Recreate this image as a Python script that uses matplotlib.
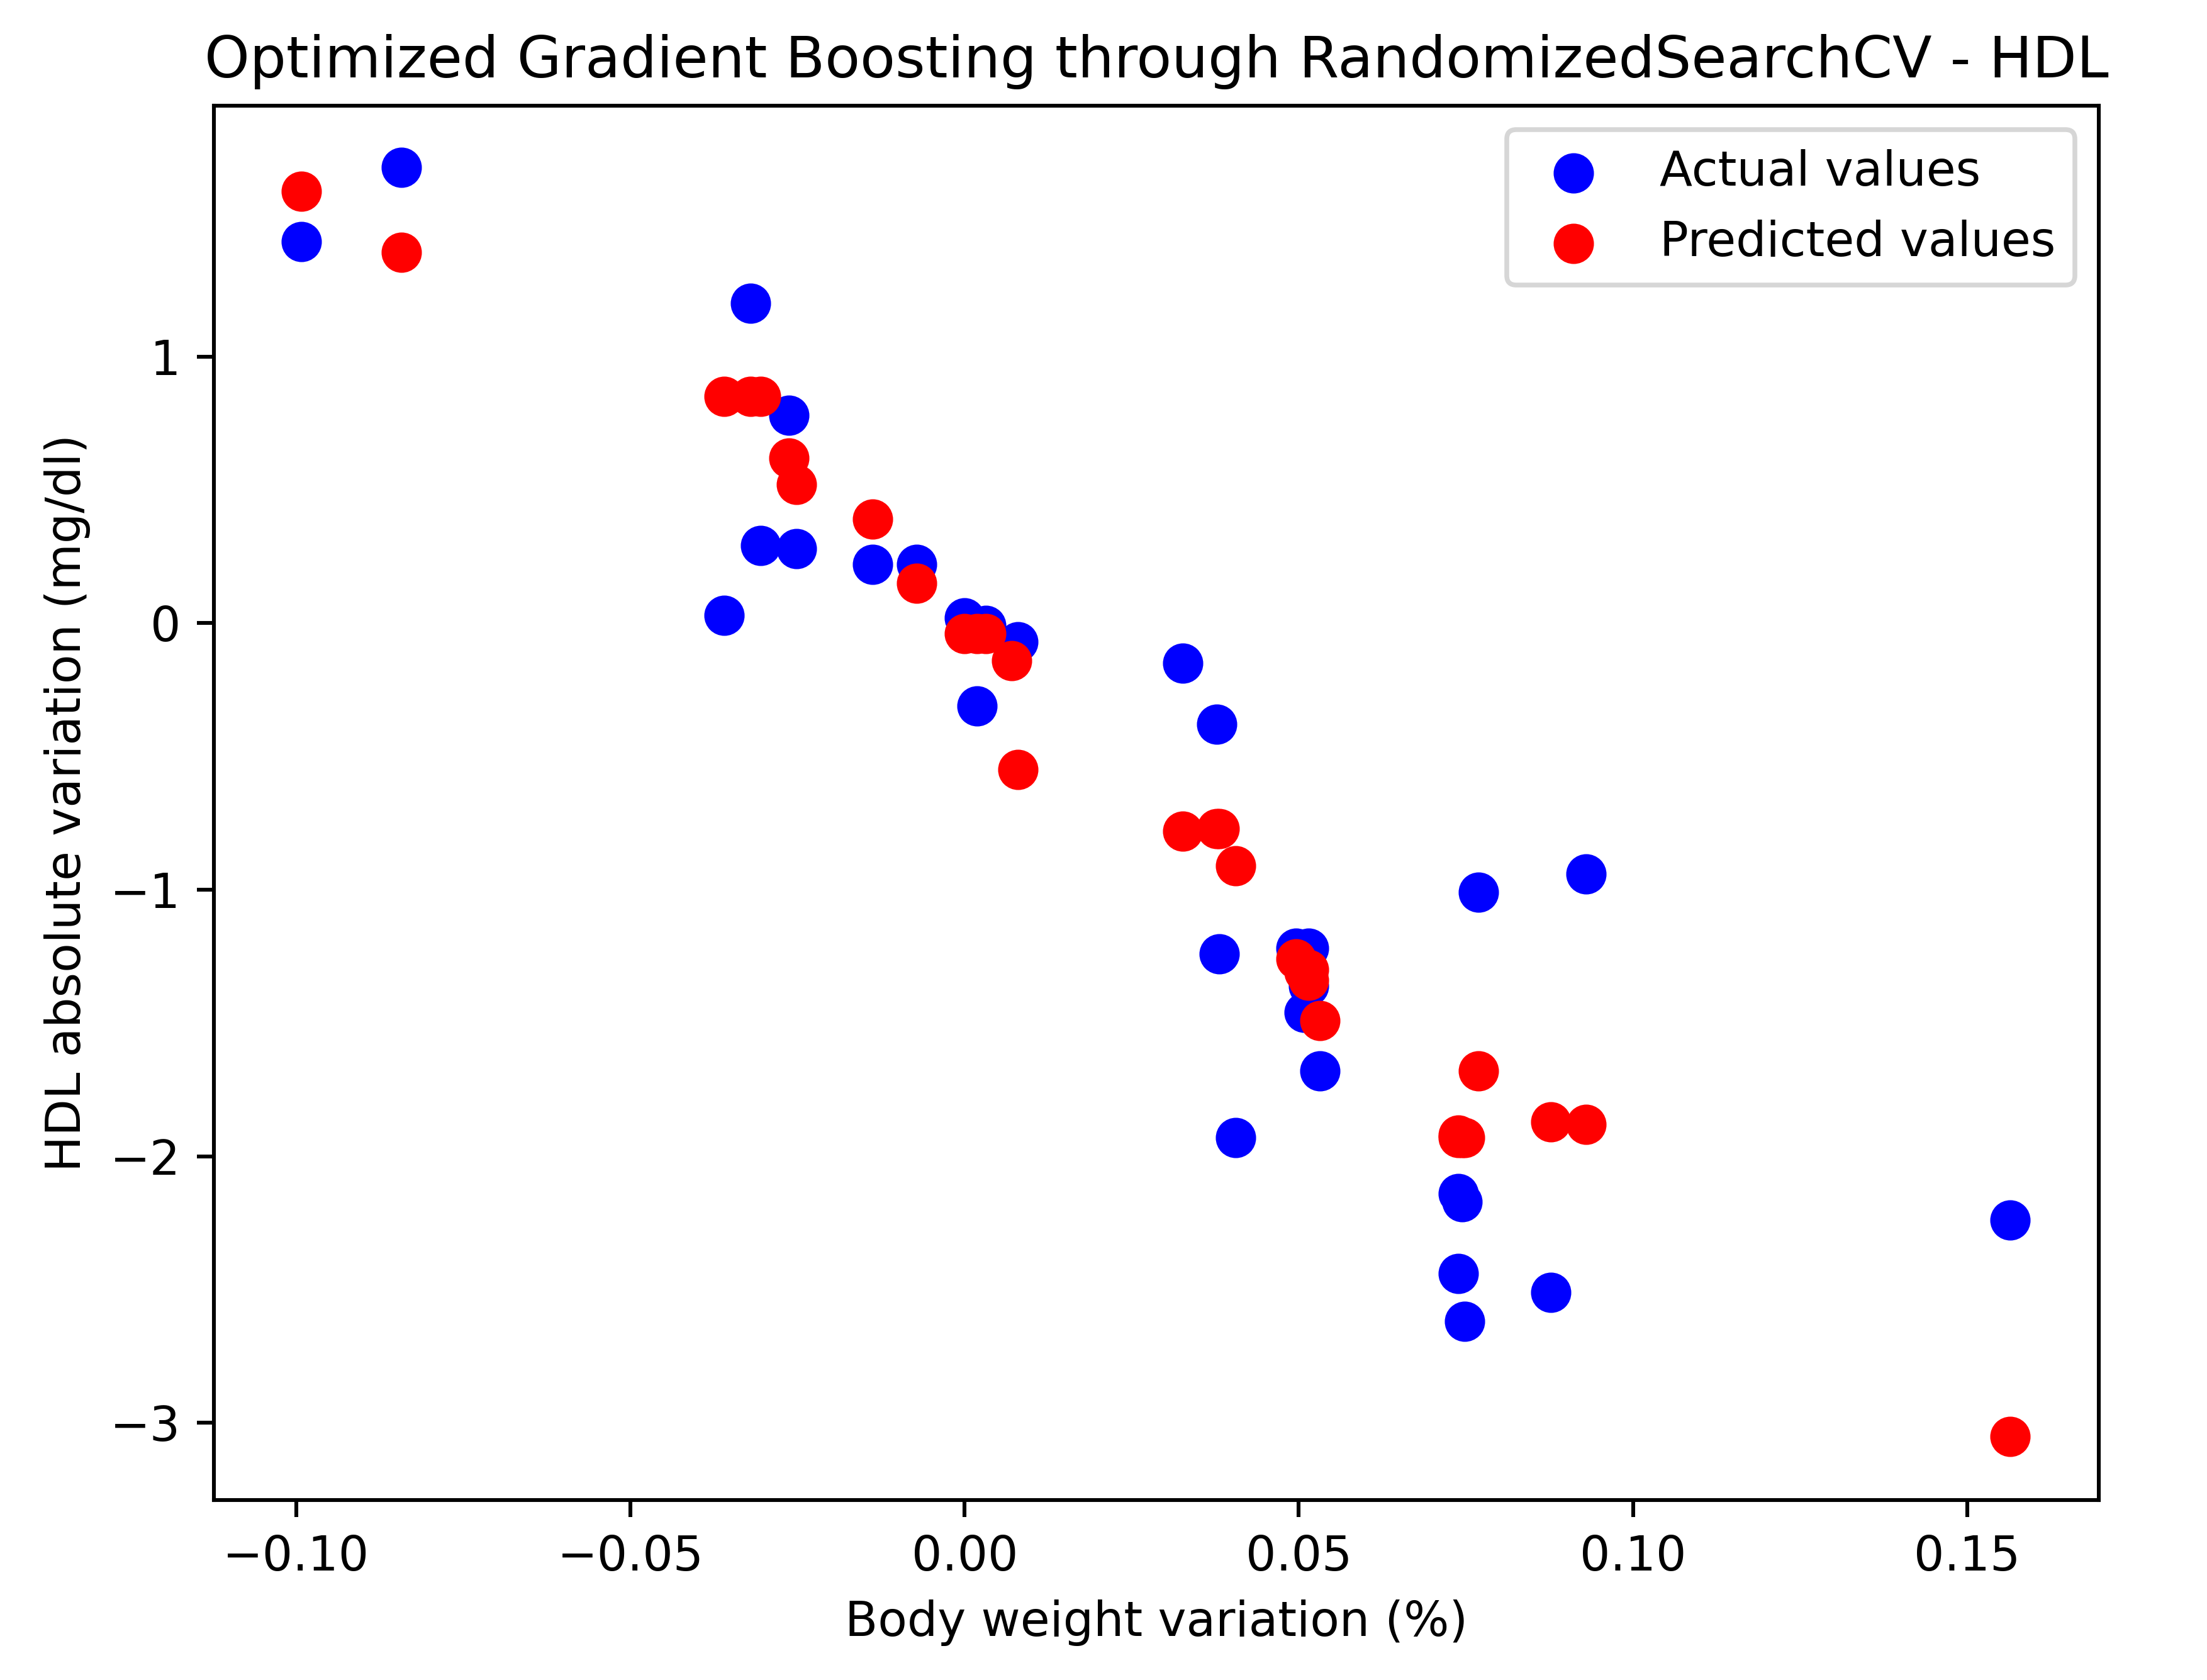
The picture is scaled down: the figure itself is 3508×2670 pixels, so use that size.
import matplotlib
matplotlib.use("Agg")
import matplotlib.pyplot as plt

x = [-0.0992, -0.0843, -0.032, -0.0263, -0.0305, -0.0252, -0.036, -0.0138, -0.0072, 0.0,
     0.0032, 0.0019, 0.008, 0.0326, 0.0377, 0.0381, 0.0405, 0.0496, 0.0515, 0.0515,
     0.0508, 0.0532, 0.0739, 0.0744, 0.0739, 0.0748, 0.0769, 0.0877, 0.093, 0.1564]
actual = [1.43, 1.71, 1.20, 0.78, 0.29, 0.28, 0.03, 0.22, 0.22, 0.02,
          -0.01, -0.31, -0.07, -0.15, -0.38, -1.24, -1.93, -1.22, -1.22, -1.36,
          -1.46, -1.68, -2.14, -2.17, -2.44, -2.62, -1.01, -2.51, -0.94, -2.24]
predicted = [1.62, 1.39, 0.85, 0.62, 0.85, 0.52, 0.85, 0.39, 0.15, -0.04,
             -0.04, -0.04, -0.14, -0.78, -0.77, -0.77, -0.91, -1.26, -1.30, -1.34,
             -1.31, -1.49, -1.93, -1.93, -1.92, -1.93, -1.68, -1.87, -1.88, -3.05]
x_pred = list(x)
x_pred[12] = 0.007
x_pred[13] = 0.0326

fig = plt.figure(figsize=(3508/548, 2670/548), dpi=548)
ax = fig.add_axes([0.097, 0.107, 0.854, 0.830])
ax.scatter(x, actual, color="blue", s=55, label="Actual values")
ax.scatter(x_pred, predicted, color="red", s=55, label="Predicted values")
# extra red point at x=0.008, y=-0.55
ax.scatter([0.008], [-0.55], color="red", s=55)
ax.set_xlim(-0.1123, 0.1697)
ax.set_ylim(-3.29, 1.94)
ax.set_xlabel("Body weight variation (%)")
ax.set_ylabel("HDL absolute variation (mg/dl)")
ax.set_title("Optimized Gradient Boosting through RandomizedSearchCV - HDL", fontsize=12)
ax.legend(loc="upper right")
fig.savefig("out.png", dpi=548)
